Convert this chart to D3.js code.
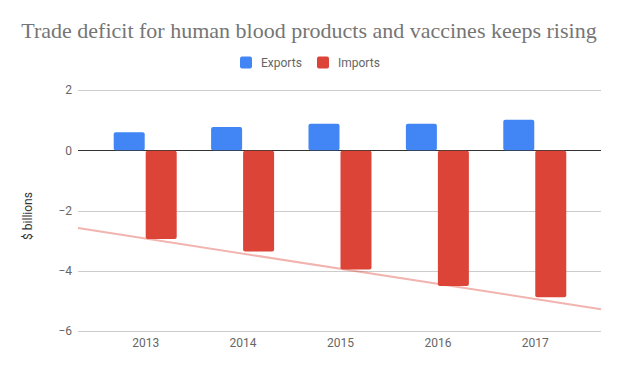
<!DOCTYPE html>
<html>
<head>
<meta charset="utf-8">
<script src="https://cdn.jsdelivr.net/npm/d3@7"></script>
<style>
  body { margin: 0; background: #fff; }
  svg text { font-family: Roboto, "Noto Sans", sans-serif; }
</style>
</head>
<body>
<div id="chart"></div>
<script>
const years = [2013, 2014, 2015, 2016, 2017]
const exportsVals = [0.6, 0.77, 0.88, 0.88, 1.01]
const importsVals = [-2.95, -3.36, -3.96, -4.51, -4.88]
const yTicks = [-6, -4, -2, 0, 2]

const width = 620
const height = 371
const margin = { top: 90, bottom: 40, left: 78, right: 19 }

const svg = d3
  .select("#chart")
  .append("svg")
  .attr("width", width)
  .attr("height", height)

// continuous year axis, padded like the original
const x = d3.scaleLinear().domain([2012.31, 2017.68]).range([margin.left, width - margin.right])
const y = d3.scaleLinear().domain([-6, 2]).range([331, 90])

// gridlines
svg
  .append("g")
  .selectAll("line")
  .data(yTicks)
  .join("line")
  .attr("x1", margin.left)
  .attr("x2", width - margin.right)
  .attr("y1", (d) => Math.round(y(d)) + 0.5)
  .attr("y2", (d) => Math.round(y(d)) + 0.5)
  .attr("stroke", (d) => (d === 0 ? "#333" : "#ccc"))
  .attr("stroke-width", 1)

// y axis labels
const yaxis = d3.axisLeft(y).tickValues(yTicks).tickSize(0).tickPadding(0)
const g_yaxis = svg.append("g").attr("transform", `translate(${margin.left - 6},0)`).call(yaxis)
g_yaxis.select(".domain").remove()
g_yaxis.selectAll("text").attr("font-size", 12).attr("fill", "#666").attr("font-family", "Roboto")

// x axis labels
const xaxis = d3.axisBottom(x).tickValues(years).tickFormat(d3.format("d")).tickSize(0).tickPadding(0)
const g_xaxis = svg.append("g").attr("transform", "translate(0,338)").call(xaxis)
g_xaxis.select(".domain").remove()
g_xaxis.selectAll("text").attr("font-size", 12).attr("fill", "#666").attr("font-family", "Roboto")

const barW = 31

// exports bars (left of year)
svg
  .append("g")
  .selectAll("rect")
  .data(years.map((yr, i) => ({ yr, v: exportsVals[i] })))
  .join("rect")
  .attr("x", (d) => x(d.yr) - barW - 0.5)
  .attr("width", barW)
  .attr("y", (d) => y(d.v))
  .attr("height", (d) => y(0) - y(d.v))
  .attr("rx", 2)
  .attr("fill", "#4285f4")

// imports bars (right of year)
svg
  .append("g")
  .selectAll("rect")
  .data(years.map((yr, i) => ({ yr, v: importsVals[i] })))
  .join("rect")
  .attr("x", (d) => x(d.yr) + 0.5)
  .attr("width", barW)
  .attr("y", y(0) + 0.5)
  .attr("height", (d) => y(d.v) - y(0) - 0.5)
  .attr("rx", 2)
  .attr("fill", "#db4437")

// linear trendline for imports
const mx = d3.mean(years)
const my = d3.mean(importsVals)
const slope =
  d3.sum(years, (yr, i) => (yr - mx) * (importsVals[i] - my)) / d3.sum(years, (yr) => (yr - mx) ** 2)
const trend = (t) => my + slope * (t - mx)
const [x0, x1] = x.domain()
svg
  .append("line")
  .attr("x1", x(x0))
  .attr("x2", x(x1))
  .attr("y1", y(trend(x0)))
  .attr("y2", y(trend(x1)))
  .attr("stroke", "#db4437")
  .attr("stroke-opacity", 0.4)
  .attr("stroke-width", 2)

// title
svg
  .append("text")
  .attr("x", 309)
  .attr("y", 38)
  .attr("text-anchor", "middle")
  .style("font-family", "'Liberation Serif', serif")
  .attr("font-size", 22)
  .attr("fill", "#757575")
  .text("Trade deficit for human blood products and vaccines keeps rising")

// legend
const legend = [
  { name: "Exports", color: "#4285f4", x: 240 },
  { name: "Imports", color: "#db4437", x: 317 },
]
const lg = svg.append("g").selectAll("g").data(legend).join("g")
lg.append("rect")
  .attr("x", (d) => d.x)
  .attr("y", 56.5)
  .attr("width", 12)
  .attr("height", 12)
  .attr("rx", 2)
  .attr("fill", (d) => d.color)
lg.append("text")
  .attr("x", (d) => d.x + 21)
  .attr("y", 67)
  .attr("font-size", 12)
  .attr("fill", "#666")
  .text((d) => d.name)

// y axis title
svg
  .append("text")
  .attr("transform", "translate(32,216) rotate(-90)")
  .attr("text-anchor", "middle")
  .attr("font-size", 12)
  .attr("fill", "#333")
  .text("$ billions")
</script>
</body>
</html>
